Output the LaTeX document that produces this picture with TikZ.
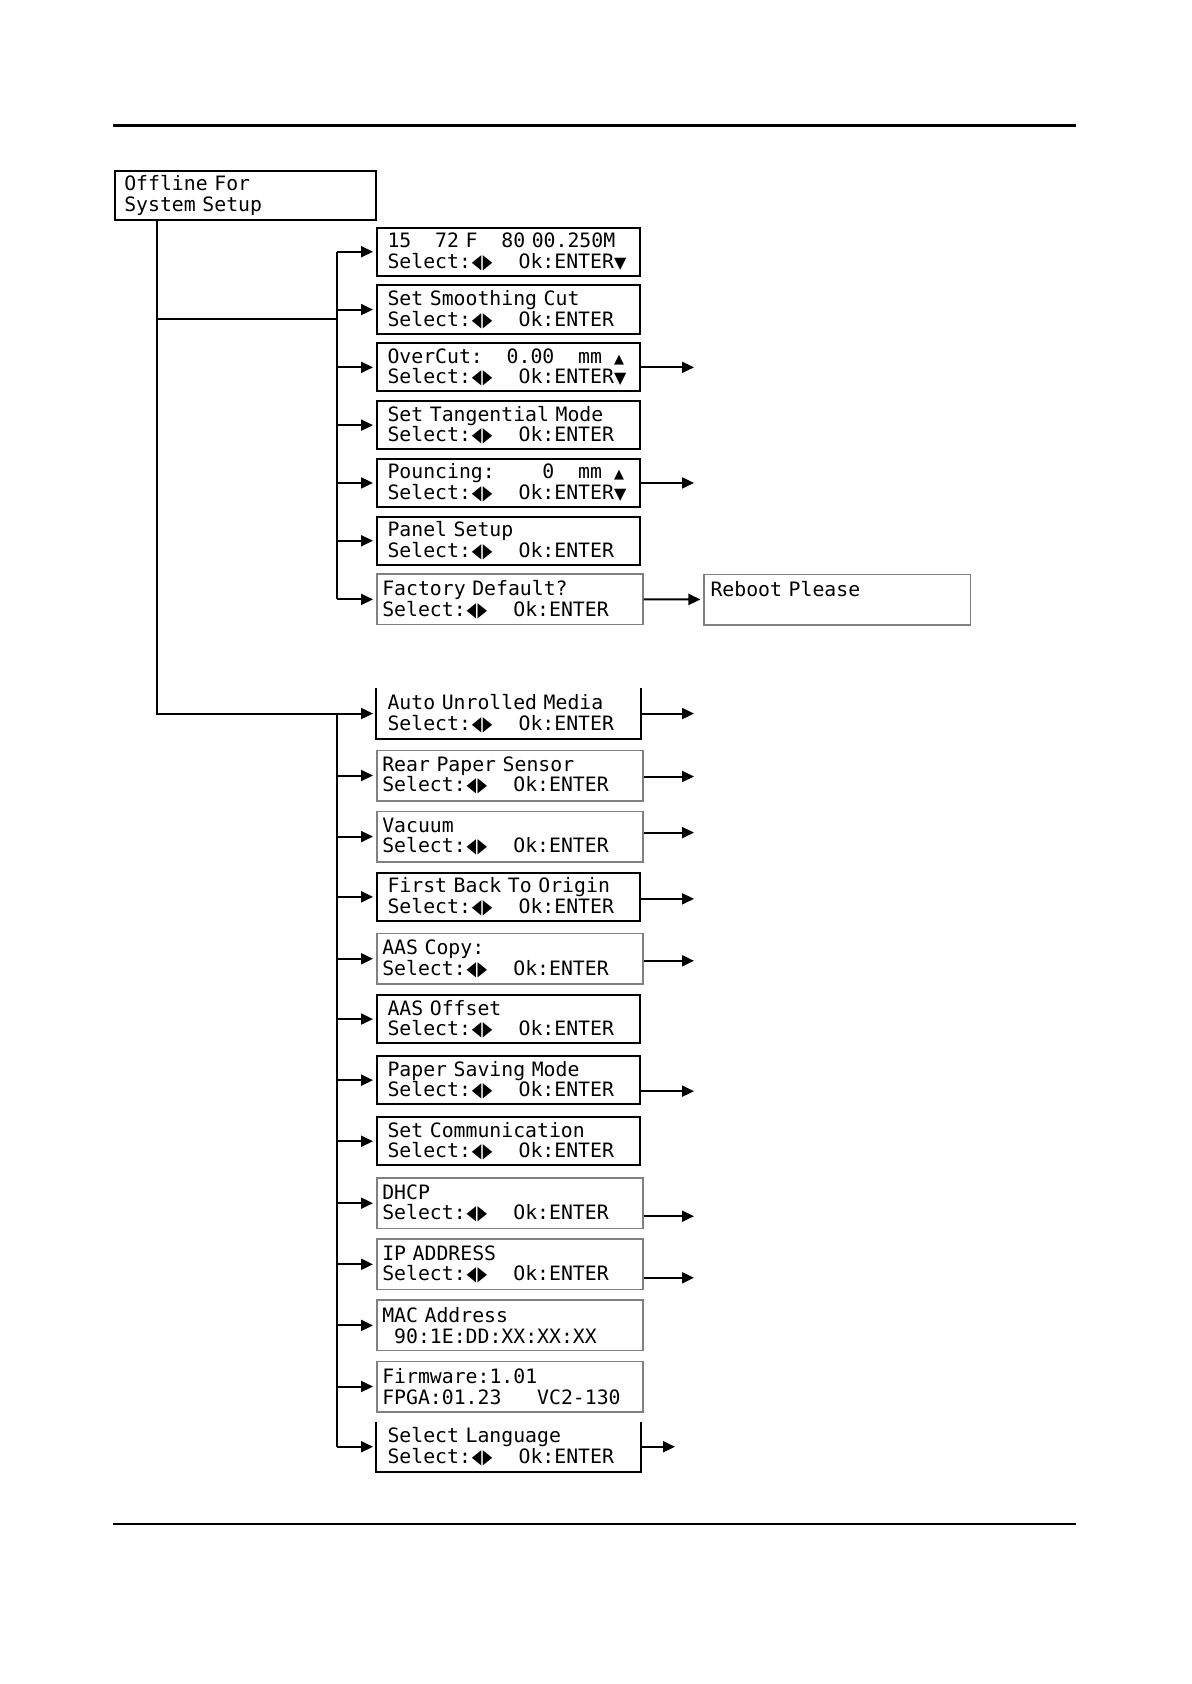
\documentclass[tikz,border=0pt]{standalone}
\usepackage{fontspec}
\setmonofont{DejaVu Sans Mono}
\newfontfamily\symfont{DejaVu Sans}
\usetikzlibrary{arrows.meta, calc}

% LCD font: every space is one character cell
\newcommand\lcdfont{\ttfamily\fontsize{9.9}{10.3}\selectfont
  \spaceskip=\fontcharwd\font48\relax\xspaceskip=\spaceskip}
% LCD glyphs, one cell = width of a digit
\newcommand\ch{\hphantom{0}}
\newcommand\lcdtri[1]{\scalebox{0.62}[1]{\symfont\fontsize{10}{10}\selectfont #1}}
\newcommand\lcdlr{\makebox[0pt][l]{\hspace{0.4pt}\lcdtri{◀}\hspace{0.8pt}\lcdtri{▶}}\hphantom{00}}
\newcommand\lcddn{\makebox[0pt][l]{\symfont\fontsize{8}{8}\selectfont ▼}\hphantom{0}}
\newcommand\lcdup{\makebox[0pt][l]{\symfont\fontsize{6.5}{6.5}\selectfont ▲}\hphantom{0}}
\newcommand\selok{Select:\lcdlr\ch\ch Ok:ENTER}

\tikzset{
  lcd/.style={draw, line width=1pt, anchor=north west, align=left,
    font=\lcdfont,
    minimum width=131.5pt, minimum height=24.15pt,
    text width=121pt, inner xsep=5.25pt, inner ysep=0pt},
  lcdg/.style={lcd, draw=black!50, line width=0.75pt,
    minimum width=133pt, minimum height=25.25pt,
    text width=127.5pt, inner xsep=2.75pt},
  lcdo/.style={lcd, draw=none},
  conn/.style={line width=1pt},
  arr/.style={conn, -{Triangle[length=6pt, width=5.5pt]}, shorten >=1.5pt},
}

\begin{document}
\begin{tikzpicture}[x=0.5pt, y=-0.5pt]
\useasboundingbox (0,0) rectangle (1191,1684);
\def\dya{57.8}
\def\dyb{61.1}

% ---- page rules ----
\draw[line width=1.2pt] (113,125.5) -- (1076,125.5);
\draw[line width=1.2pt] (113,1524) -- (1076,1524);

% ---- head ----
\node[lcd, minimum width=130.75pt, minimum height=24.25pt, inner xsep=4.9pt]
  (offline) at (113.5,170.5) {Offline For\\System Setup};
\coordinate (trunk) at ($(offline.south west)+(43.5,0)$);
\coordinate (busa) at (337,0);
\coordinate (joina) at (337,319);
\coordinate (rtip) at (694,0);

% ---- 1. cutting setup ----
\foreach \nm/\sty/\la/\lb [count=\i from 0] in {
  spd/lcd/{15\ch\ch72 F\ch\ch80 00.250M}/{\selok\lcddn},
  smc/lcd/Set Smoothing Cut/\selok,
  ovc/lcd/{OverCut:\ch\ch0.00\ch\ch mm\ch\lcdup}/{\selok\lcddn},
  tgm/lcd/Set Tangential Mode/\selok,
  pnc/lcd/{Pouncing:\ch\ch\ch\ch0\ch\ch mm\ch\lcdup}/{\selok\lcddn},
  pnl/lcd/Panel Setup/\selok,
  fac/lcdg/Factory Default?/\selok}
  \node[\sty] (\nm) at (376,{226.6+\i*\dya}) {\la\\\lb};

\node[lcdg, text width=126.75pt, inner xsep=3.2pt] (rbt) at (703.4,573.5)
  {Reboot Please\\\mbox{}};

\draw[conn] (trunk |- joina) -- (joina);
\draw[conn] (busa |- spd.west) -- (busa |- fac.west);
\foreach \nm in {spd,smc,ovc,tgm,pnc,pnl,fac}
  \draw[arr] (busa |- \nm.west) -- (\nm.west);
\foreach \nm in {ovc,pnc}
  \draw[arr, shorten >=0pt] (\nm.east) -- (\nm.east -| rtip);
\draw[arr] (fac) -- (rbt);

% ---- 2. media and machine setup ----
\foreach \nm/\sty/\la/\lb [count=\i from 0] in {
  aum/lcdo/Auto Unrolled Media/\selok,
  rps/lcdg/Rear Paper Sensor/\selok,
  vac/lcdg/Vacuum/\selok,
  fbo/lcd/First Back To Origin/\selok,
  aac/lcdg/AAS Copy:/\selok,
  aao/lcd/AAS Offset/\selok,
  psm/lcd/Paper Saving Mode/\selok,
  com/lcd/Set Communication/\selok,
  dhc/lcdg/DHCP/\selok,
  ipa/lcdg/IP ADDRESS/\selok,
  mac/lcdg/MAC Address/{\ch 90:1E:DD:XX:XX:XX},
  frm/lcdg/Firmware:1.01/{FPGA:01.23\ch\ch\ch VC2-130},
  lng/lcdo/Select Language/\selok}
  \node[\sty] (\nm) at (376,{688.4+\i*\dyb}) {\la\\\lb};

% boxes drawn without top edge
\foreach \nm in {aum,lng}
  \draw[conn] (\nm.north west) |- (\nm.south east) -- (\nm.north east);

\draw[arr] (trunk) |- (aum.west);
\draw[conn] (busa |- aum.west) -- (busa |- lng.west);
\foreach \nm in {rps,vac,fbo,aac,aao,psm,com,dhc,ipa,mac,frm,lng}
  \draw[arr] (busa |- \nm.west) -- (\nm.west);

% ---- arrows to next level ----
\foreach \nm/\dy in {aum/0, rps/1, vac/-4, fbo/2, aac/2, psm/11, dhc/13, ipa/13.5}
  \draw[arr, shorten >=0pt] ($(\nm.east)+(0,\dy)$) -- ($(\nm.east -| rtip)+(0,\dy)$);
\draw[arr, shorten >=0pt] (lng.east) -- ++(34,0);
\end{tikzpicture}
\end{document}
